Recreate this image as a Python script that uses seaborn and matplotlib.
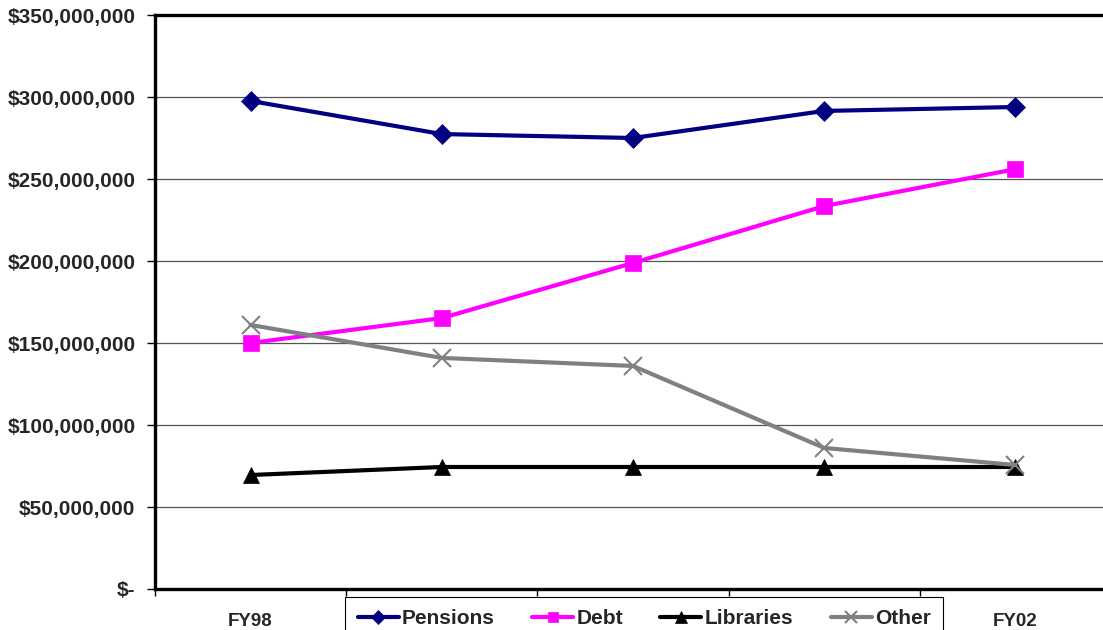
import matplotlib
matplotlib.use("Agg")
import matplotlib.pyplot as plt
import seaborn as sns
import pandas as pd
from matplotlib.ticker import FuncFormatter, FixedLocator

years = ["FY98", "FY99", "FY00", "FY01", "FY02"]
pensions = [297_600_000, 277_400_000, 275_000_000, 291_500_000, 293_900_000]
debt = [150_000_000, 165_200_000, 198_800_000, 233_500_000, 256_000_000]
libraries = [69_500_000, 74_400_000, 74_400_000, 74_400_000, 74_400_000]
other = [161_000_000, 140_900_000, 136_000_000, 86_000_000, 75_600_000]

series_names = ["Pensions", "Debt", "Libraries", "Other"]
series_values = [pensions, debt, libraries, other]
colors = {"Pensions": "#000080", "Debt": "#FF00FF", "Libraries": "#000000", "Other": "#808080"}
markers = {"Pensions": "D", "Debt": "s", "Libraries": "^", "Other": "x"}
msizes = {"Pensions": 10, "Debt": 11, "Libraries": 12, "Other": 13}

rows = []
for name, vals in zip(series_names, series_values):
    for i, (yr, v) in enumerate(zip(years, vals)):
        rows.append({"pos": i, "year": yr, "series": name, "value": v})
df = pd.DataFrame(rows)

sns.set_theme(style="white")
plt.rcParams["font.family"] = ["Liberation Sans", "DejaVu Sans"]
plt.rcParams["font.weight"] = "bold"

fig = plt.figure(figsize=(11.03, 6.30), dpi=100)
ax = fig.add_axes([155 / 1103, 1 - 589 / 630, (1111 - 155) / 1103, (589 - 15) / 630])

for name in series_names:
    sub = df[df["series"] == name]
    sns.lineplot(data=sub, x="pos", y="value", ax=ax, color=colors[name],
                 marker=markers[name], markersize=msizes[name],
                 markeredgewidth=1.5 if name == "Other" else 0.5,
                 markeredgecolor=colors[name],
                 linewidth=3, label=name, zorder=3)

ax.set_xlim(-0.5, 4.5)
ax.set_ylim(0, 350_000_000)
ax.set_xlabel("")
ax.set_ylabel("")

ax.yaxis.set_major_locator(FixedLocator([i * 50_000_000 for i in range(8)]))
ax.yaxis.set_major_formatter(FuncFormatter(lambda v, p: "$-" if v == 0 else f"${v:,.0f}"))
ax.grid(axis="y", color="#555555", linewidth=0.9)
ax.grid(axis="x", visible=False)

ax.xaxis.set_major_locator(FixedLocator([-0.5, 0.5, 1.5, 2.5, 3.5, 4.5]))
ax.xaxis.set_major_formatter(FuncFormatter(lambda v, p: ""))
ax.set_xticks(range(len(years)), minor=True)
ax.set_xticklabels(years, minor=True, fontsize=13.5, fontweight="bold")
ax.tick_params(axis="x", which="minor", length=0, pad=17)
ax.tick_params(axis="x", which="major", direction="out", length=5, width=1, color="black", bottom=True)
ax.tick_params(axis="y", which="major", direction="out", length=6, width=1, color="black",
               labelsize=15, pad=8, left=True)
for lbl in ax.get_yticklabels():
    lbl.set_fontweight("bold")

for side in ["left", "bottom", "top"]:
    ax.spines[side].set_visible(True)
    ax.spines[side].set_color("black")
    ax.spines[side].set_linewidth(2.4)
ax.spines["right"].set_visible(False)

ax.get_legend().remove()
handles, labels = ax.get_legend_handles_labels()
leg = fig.legend(handles, labels, loc="upper left",
                 bbox_to_anchor=(345 / 1103, 1 - 597 / 630), ncol=4,
                 frameon=True, fancybox=False, edgecolor="black",
                 facecolor="white", framealpha=1.0, borderaxespad=0,
                 prop={"weight": "bold", "size": 15}, handlelength=1.97,
                 handletextpad=0.15, columnspacing=1.8, borderpad=0.6,
                 markerscale=0.7)
leg.get_frame().set_linewidth(0.8)
leg.set_zorder(10)

fig.savefig("out.png", dpi=100)
